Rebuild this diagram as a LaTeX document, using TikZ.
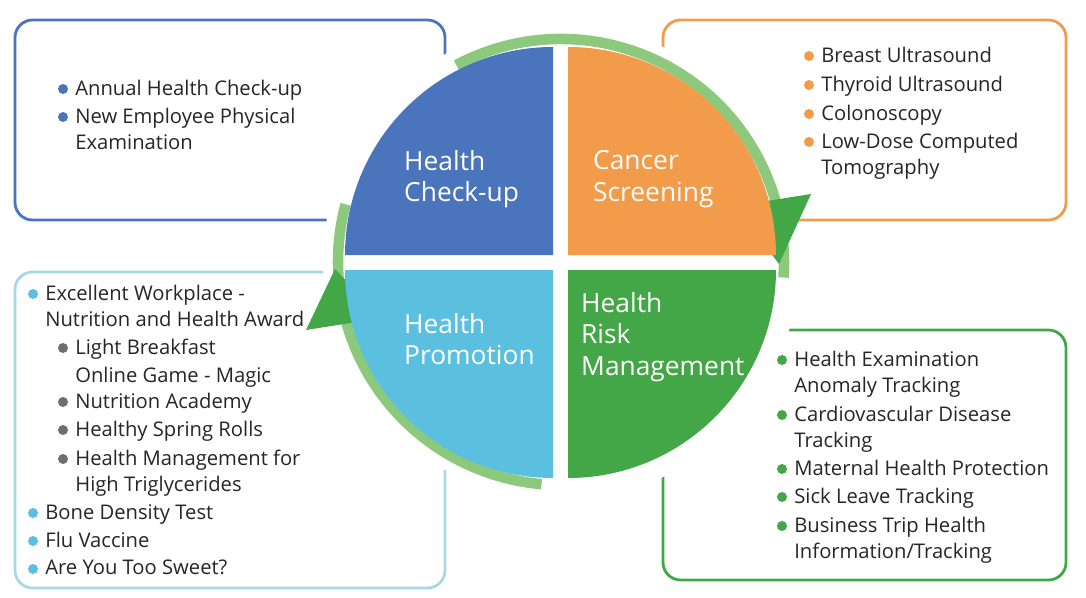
\documentclass[tikz,border=0pt]{standalone}
\usepackage{fontspec}
\setmainfont{Open Sans}
\usetikzlibrary{calc}
\definecolor{cblue}{HTML}{4A74BC}
\definecolor{corange}{HTML}{F29B4A}
\definecolor{clight}{HTML}{5BC0E0}
\definecolor{cgreen}{HTML}{43A647}
\definecolor{clightb}{HTML}{A8D8E5}
\definecolor{cgray}{HTML}{6E6E6E}
\definecolor{cring}{HTML}{8CC97C}
\tikzset{
  box/.style={line width=1.6pt,rounded corners=10pt,fill=white},
  item/.style={anchor=north west,inner sep=0pt,font=\fontsize{11.5}{14.5}\selectfont,align=left,text=black!85},
  quad/.style={anchor=west,text=white,align=left,font=\fontsize{15}{18}\selectfont},
}
\newcommand{\bul}[5]{% name, colour, x, y, text
  \fill[#2] (#3,#4) circle (5);
  \node[item] (#1) at ($(#3,#4)+(12,-9)$) {#5};}
\begin{document}
\begin{tikzpicture}[x=0.02cm,y=-0.02cm]
  \useasboundingbox (0,0) rectangle (1086,598);
  % boxes
  \draw[box,draw=cblue]   (15,20)  rectangle (445,220);
  \draw[box,draw=corange] (663,20) rectangle (1066,220);
  \draw[box,draw=clightb] (15,272) rectangle (445,588);
  \draw[box,draw=cgreen]  (663,330) rectangle (1066,580);
  \coordinate (C) at (561,262);
  \fill[white] (C) circle (238);
  % ring arrows
  \draw[cring,line width=6pt] ($(C)+(-118:223)$) arc[start angle=-118,end angle=4,radius=223];
  \fill[cgreen] (736,206) -- (811,194) -- (779,264) -- cycle;
  \draw[cring,line width=6pt] ($(C)+(95:223)$) arc[start angle=95,end angle=195,radius=223];
  \fill[cgreen] (306,330) -- (382,318) -- (335,269) -- cycle;
  % quadrants
  \fill[cblue]   (553,255) -- (553,47)  arc[start angle=-90,end angle=-180,radius=208] -- cycle;
  \fill[corange] (568,255) -- (568,47)  arc[start angle=-90,end angle=0,radius=208] -- cycle;
  \fill[clight]  (553,270) -- (345,270) arc[start angle=180,end angle=90,radius=208] -- cycle;
  \fill[cgreen]  (568,270) -- (776,270) arc[start angle=0,end angle=90,radius=208] -- cycle;
  \node[quad] (hc)  at (398,179) {Health\\Check-up};
  \node[quad] (cs)  at (587,179) {Cancer\\Screening};
  \node[quad] (hp)  at (398,339) {Health\\Promotion};
  \node[quad] (hrm) at (575,337) {Health\\Risk\\Management};
  % top left
  \bul{a1}{cblue}{63}{89}{Annual Health Check-up}
  \bul{a2}{cblue}{63}{117}{New Employee Physical\\Examination}
  % top right
  \bul{b1}{corange}{809}{56}{Breast Ultrasound}
  \bul{b2}{corange}{809}{85}{Thyroid Ultrasound}
  \bul{b3}{corange}{809}{114}{Colonoscopy}
  \bul{b4}{corange}{809}{142}{Low-Dose Computed\\Tomography}
  % bottom left
  \bul{c1}{clight}{33}{294}{Excellent Workplace -\\Nutrition and Health Award}
  \bul{c2}{cgray}{63}{348}{Light Breakfast}
  \node[item] (c2b) at (75,367) {Online Game - Magic};
  \bul{c3}{cgray}{63}{402}{Nutrition Academy}
  \bul{c4}{cgray}{63}{430}{Healthy Spring Rolls}
  \bul{c5}{cgray}{63}{459}{Health Management for\\High Triglycerides}
  \bul{c6}{clight}{33}{513}{Bone Density Test}
  \bul{c7}{clight}{33}{541}{Flu Vaccine}
  \bul{c8}{clight}{33}{569}{Are You Too Sweet?}
  % bottom right
  \bul{d1}{cgreen}{782}{360}{Health Examination\\Anomaly Tracking}
  \bul{d2}{cgreen}{782}{415}{Cardiovascular Disease\\Tracking}
  \bul{d3}{cgreen}{782}{469}{Maternal Health Protection}
  \bul{d4}{cgreen}{782}{497}{Sick Leave Tracking}
  \bul{d5}{cgreen}{782}{526}{Business Trip Health\\Information/Tracking}
\end{tikzpicture}
\end{document}
